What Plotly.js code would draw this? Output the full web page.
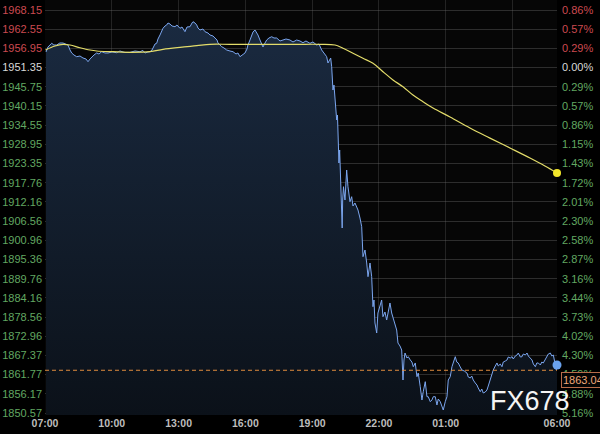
<!DOCTYPE html>
<html>
<head>
<meta charset="utf-8">
<script src="https://cdn.plot.ly/plotly-3.0.1.min.js"></script>
<style>html,body{margin:0;padding:0;background:#000;}#chart{width:600px;height:434px;}</style>
</head>
<body>
<div id="chart"></div>
<script>
// ---- data (minutes since 07:00, price) ----
const minutes = [2.7,8,18,24,31.5,40,48.5,56.6,62,67.4,72,78,85.4,94.3,102.4,110.5,115.9,121.3,125.9,132,139.3,145.5,152.8,161.7,169.8,180.6,193.2,202.1,215.6,229,242.6,256,264,269.5,277.6,283,288.4,291,296.5,301,304.5,310,315.3,318,323.4,328,331.5,337,342.3,350.4,355.7,363.8,369.2,377.3,382.7,390.8,396.2,398.9,404.3,408.9,412.3,417.7,425.8,431.2,439.3,444.7,452.8,458.2,463.6,466.3,471.6,476.2,482.4,489.7,498.6,506.7,514.8,520.1,525.5,531,539,544.4,547,552.5,557,560.6,566,570,574,579.4,584,587.5,593,597.5,603.7,611,617.2,624.5,633.4,641.5,649.5,660.3,668.4,678.3,687.2,695.3,703.4,714.2,722.3,732.3,738.5,745.7,752,759.2,762.7,766.8,770,772.7,776.2,778.9,781.6,784.3,786.2,788.3,789.7,792.3,794.2,796.9,799.6,801,802.3,804.5,808.5,813.1,816.6,822,826.6,830.1,835.5,840.1,843.6,849,853.6,857.1,862.5,867.1,870.6,876,880.5,884,886.7,889.4,894,897.4,902.8,907.4,910.9,916.3,920.9,925.8,929.8,934.4,937.9,943.3,947.9,951.4,956.8,961.4,964.9,967.6,970.3,975.6,979.1,984.5,989,992.6,998,1002.5,1006,1011.4,1016,1019.5,1024.9,1029.5,1033,1038.4,1042.9,1046.5,1051.9,1056.4,1060,1065.4,1069.4,1073.4,1078.8,1083.4,1086.9,1092.3,1096.9,1100.4,1105.8,1109.8,1113.8,1119.2,1123.8,1130,1137.3,1140.8,1146.2,1150.2,1154.3,1159.6,1164.2,1167.7,1173.1,1177.2,1181.2,1186.6,1191.2,1194.7,1200.1,1204.2,1208.2,1213.6,1218.2,1221.7,1227.1,1231.7,1235.2,1240.6,1245.2,1248.7,1254.1,1258.7,1262.2,1267.6,1272.2,1275.7,1281.1,1285.7,1289.2,1294.6,1299.2,1302.7,1308.1,1312.7,1316.2,1321.6,1325.6,1329.7,1335.1,1339.1,1343.1,1348.5,1353.1,1356.6,1362,1366.1,1370.1,1375.5,1378.2,1380];
const prices = [1955.90,1957.36,1958.44,1957.94,1957.94,1958.52,1958.52,1958.23,1957.94,1956.48,1955.61,1955.02,1954.53,1954.73,1954.15,1953.86,1953.07,1953.86,1954.44,1955.02,1955.61,1955.32,1955.99,1955.61,1955.61,1955.90,1955.69,1956.19,1955.75,1955.81,1956.19,1955.99,1956.34,1955.61,1955.90,1955.99,1956.48,1957.07,1958.23,1958.44,1959.69,1960.86,1962.03,1962.81,1963.48,1963.78,1964.36,1964.07,1963.48,1963.28,1963.78,1962.81,1963.19,1961.82,1963.19,1963.28,1964.36,1964.74,1964.36,1963.78,1962.90,1962.32,1962.61,1961.82,1961.44,1960.86,1960.57,1959.98,1959.40,1958.52,1957.94,1957.45,1957.07,1956.48,1956.19,1955.99,1955.32,1955.61,1954.53,1955.02,1955.61,1956.77,1957.94,1959.40,1960.86,1961.73,1962.32,1961.73,1960.86,1959.40,1957.94,1957.36,1958.52,1959.40,1959.98,1960.36,1959.98,1959.98,1959.11,1959.40,1959.69,1959.40,1958.82,1959.40,1959.11,1958.61,1959.11,1958.44,1958.82,1957.94,1958.23,1956.48,1955.61,1954.53,1952.69,1953.56,1954.15,1951.61,1944.81,1946.27,1942.86,1938.98,1936.06,1937.52,1931.19,1923.51,1927.31,1918.55,1909.80,1904.55,1912.72,1916.60,1912.72,1921.47,1916.60,1912.22,1913.68,1910.97,1911.84,1910.76,1909.80,1907.46,1904.93,1896.18,1898.13,1894.34,1890.34,1894.34,1890.34,1881.59,1883.54,1876.83,1873.91,1879.75,1882.08,1883.54,1878.67,1880.04,1877.71,1881.21,1882.67,1879.75,1878.29,1876.83,1874.79,1870.99,1870.12,1868.95,1860.20,1866.04,1868.08,1866.62,1867.00,1866.04,1865.45,1864.08,1865.17,1861.17,1862.24,1858.25,1854.37,1856.79,1859.71,1855.33,1855.33,1853.87,1854.37,1855.33,1855.33,1852.91,1854.66,1853.87,1852.91,1851.45,1853.87,1855.33,1860.20,1861.17,1864.08,1865.45,1867.00,1865.45,1865.17,1864.00,1863.12,1862.83,1862.24,1861.08,1860.79,1861.37,1860.20,1859.33,1858.74,1857.87,1856.79,1857.58,1856.41,1856.70,1857.28,1858.45,1860.20,1861.95,1863.12,1864.29,1865.17,1864.29,1864.87,1864.08,1865.45,1865.74,1866.04,1866.91,1866.62,1867.00,1866.33,1867.20,1867.49,1868.08,1866.91,1867.00,1867.79,1867.49,1868.08,1867.20,1866.62,1866.04,1864.87,1864.08,1865.17,1865.17,1864.58,1865.45,1865.17,1866.33,1867.00,1867.79,1868.08,1867.20,1867.49,1865.17,1863.12,1864.58];

const avgMinutes = [1.3,27,48.5,67.4,94.3,121.3,139.3,183.3,229,283,318,363.8,408.9,444.7,498.6,587.5,678.3,741,781.6,803.1,830.1,857,884,911,937.9,964.9,991.8,1018.8,1045.8,1091.6,1145.4,1199.3,1253.2,1307.1,1347.5,1380];
const avgPrices = [1956.48,1957.65,1958.14,1957.94,1957.15,1956.48,1956.19,1955.99,1955.81,1955.99,1956.69,1957.27,1957.74,1958.14,1958.14,1958.14,1958.14,1958.14,1957.94,1956.98,1955.52,1954.06,1952.60,1950.15,1947.73,1945.77,1943.35,1941.40,1939.56,1936.94,1933.72,1930.78,1927.89,1924.97,1922.64,1920.60];

const refPrice = 1863.04;
const baseLevel = "1951.35";

const priceTicks = ["1968.15","1962.55","1956.95","1951.35","1945.75","1940.15","1934.55","1928.95","1923.35","1917.76","1912.16","1906.56","1900.96","1895.36","1889.76","1884.16","1878.56","1872.96","1867.37","1861.77","1856.17","1850.57"];
const pctTicks = ["0.86%","0.57%","0.29%","0.00%","0.29%","0.57%","0.86%","1.15%","1.43%","1.72%","2.01%","2.30%","2.58%","2.87%","3.16%","3.44%","3.73%","4.02%","4.30%","4.59%","4.88%","5.16%"];

const timeTickVals = [0,180,360,540,720,900,1080,1260,1380];
const timeTickText = ["07:00","10:00","13:00","16:00","19:00","22:00","01:00","","06:00"];

// ---- styling ----
const RED = "#cc4a50", GREEN = "#62a862", WHITE = "#d8d8d8";
const base = parseFloat(baseLevel);
function colorFor(v){ return v > base + 1e-6 ? RED : (Math.abs(v-base) < 1e-6 ? WHITE : GREEN); }
const tickVals = priceTicks.map(parseFloat);
const leftText = priceTicks.map((t,i)=>'<span style="color:'+colorFor(tickVals[i])+'">'+t+'</span>');
const rightText = pctTicks.map((t,i)=>'<span style="color:'+colorFor(tickVals[i])+'">'+t+'</span>');

const yRange = [1849.99, 1971.07];
const lastIdx = minutes.length - 1;

const traces = [
  {
    x: minutes, y: prices, type: "scatter", mode: "lines",
    line: {color: "#7ba6ef", width: 1},
    fill: "tozeroy",
    fillgradient: {type: "vertical", start: 1850, stop: 1965,
      colorscale: [[0, "#0b1119"], [1, "#1a2a40"]]},
    hoverinfo: "skip", showlegend: false
  },
  {
    x: avgMinutes, y: avgPrices, type: "scatter", mode: "lines",
    line: {color: "#e3dc6a", width: 1.2, shape: "spline"},
    hoverinfo: "skip", showlegend: false
  },
  {
    x: [avgMinutes[avgMinutes.length-1]], y: [avgPrices[avgPrices.length-1]],
    type: "scatter", mode: "markers",
    marker: {color: "#f2e62a", size: 8},
    cliponaxis: false, hoverinfo: "skip", showlegend: false
  },
  {
    x: [minutes[lastIdx]], y: [prices[lastIdx]],
    type: "scatter", mode: "markers",
    marker: {color: "#6aa2ee", size: 9},
    cliponaxis: false, hoverinfo: "skip", showlegend: false
  },
  {
    x: [minutes[0]], y: [prices[0]], yaxis: "y2", type: "scatter", mode: "markers",
    marker: {opacity: 0}, hoverinfo: "skip", showlegend: false
  }
];

const gridColor = "rgba(110,110,110,0.38)";
const layout = {
  width: 600, height: 434,
  margin: {l: 0, r: 0, t: 0, b: 19},
  paper_bgcolor: "#000000",
  plot_bgcolor: "#060606",
  font: {family: "Liberation Sans, Arial, sans-serif", size: 11, color: WHITE},
  xaxis: {
    domain: [45/600, 557/600],
    range: [0, 1380],
    tickvals: timeTickVals, ticktext: timeTickText,
    showgrid: true, gridcolor: "rgba(110,110,110,0.28)", gridwidth: 1,
    zeroline: false, showline: false, ticks: "",
    tickfont: {size: 10.5, color: "#bdbdbd", weight: "bold"},
    fixedrange: true
  },
  yaxis: {
    range: yRange, tickvals: tickVals, ticktext: leftText,
    showgrid: true, gridcolor: gridColor, gridwidth: 1,
    zeroline: false, showline: false, ticks: "",
    ticklabelstandoff: 2,
    tickfont: {size: 11}, fixedrange: true
  },
  yaxis2: {
    overlaying: "y", side: "right", range: yRange,
    tickvals: tickVals, ticktext: rightText,
    showgrid: false, zeroline: false, showline: false, ticks: "",
    ticklabelstandoff: 4,
    tickfont: {size: 11}, fixedrange: true
  },
  shapes: [
    {type: "line", xref: "x", yref: "y", x0: 0, x1: 1380, y0: refPrice, y1: refPrice,
     line: {color: "#df8c3e", width: 1, dash: "4px,3px"}, layer: "above"}
  ],
  annotations: [
    {text: refPrice.toFixed(2), xref: "paper", yref: "y", x: 561/600, y: refPrice,
     xanchor: "left", yanchor: "top", yshift: -2, showarrow: false,
     font: {size: 11, color: "#eea77a"}, bgcolor: "#050505",
     bordercolor: "#b86c4a", borderwidth: 1, borderpad: 1},
    {text: "FX678", xref: "paper", yref: "paper", x: 530/600, y: 1 - (401-0)/415,
     xanchor: "center", yanchor: "middle", showarrow: false,
     font: {size: 27, color: "#f4f4f4", family: "Liberation Sans, Arial, sans-serif"}}
  ],
  showlegend: false
};

Plotly.newPlot("chart", traces, layout, {displayModeBar: false, staticPlot: true});
</script>
</body>
</html>
